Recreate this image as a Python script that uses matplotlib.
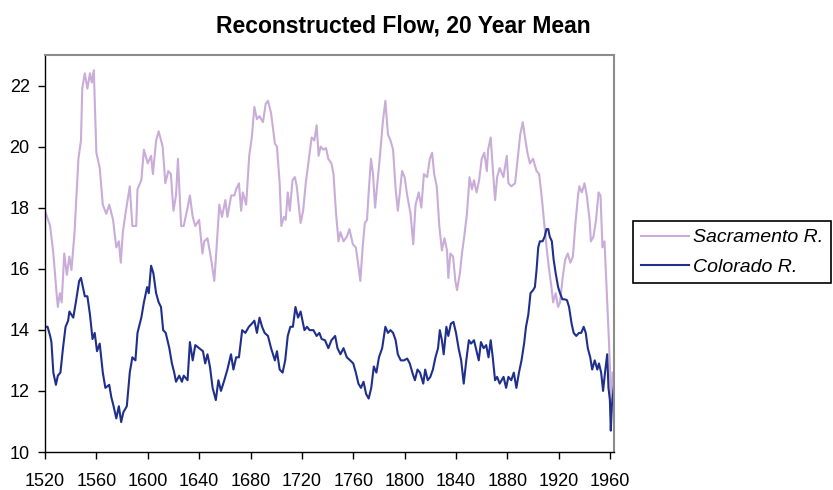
import numpy as np
import matplotlib
matplotlib.use("Agg")
import matplotlib.pyplot as plt

plt.rcParams['font.family'] = ['Liberation Sans', 'DejaVu Sans']

# Sacramento R. (年份, 流量)
sac_year = [1520, 1524, 1526.5, 1529, 1530, 1531.6, 1533, 1535, 1537, 1539, 1540.6, 1543, 1546,
            1548, 1549, 1551, 1553, 1555, 1556.4, 1558, 1560, 1562.6, 1565, 1567.7, 1570, 1573,
            1575.5, 1577.5, 1579, 1580.6, 1583, 1586, 1588, 1591, 1592, 1595, 1597, 1600, 1602.6,
            1604, 1606.5, 1608.5, 1611.6, 1613.7, 1616, 1618, 1620, 1622, 1623.5, 1626, 1628,
            1631, 1632.8, 1635, 1637, 1640,
            1642.6, 1644, 1646.5, 1649, 1651.8, 1653.6, 1655.7, 1657.8, 1660.4, 1662, 1665,
            1667.4, 1668.8, 1671, 1672.7, 1674, 1676.6, 1679, 1681, 1683, 1685, 1687, 1689.7,
            1691.8, 1693.6, 1696, 1699, 1700.6, 1702.7, 1704, 1706, 1707.4, 1709, 1710.6, 1712.7,
            1714.5, 1716, 1719, 1721, 1723, 1725, 1727.6, 1729.7, 1731.5, 1733, 1734.6, 1736.7,
            1738.8, 1740.6, 1743, 1744.6, 1746.6, 1748.5, 1750, 1752.4, 1755, 1757, 1759.7, 1762,
            1764, 1765.5, 1767.3, 1769, 1770.7, 1772, 1773.8, 1775.4, 1777, 1779, 1781, 1783,
            1785, 1787, 1789, 1791, 1793, 1794.7, 1796.3, 1798,
            1800, 1802, 1804.6, 1806.7, 1808.5, 1811, 1813, 1815, 1817.5, 1819.6, 1821.4, 1823,
            1825, 1827, 1829, 1831, 1833, 1834, 1835.6, 1837.7, 1839.5, 1840.8, 1843, 1844.6,
            1846.4, 1848.5, 1850.5, 1852.4, 1854, 1856, 1858, 1860, 1862, 1864, 1865, 1867,
            1868.6, 1870.4, 1872, 1874, 1876.9, 1879.5, 1880.8, 1883, 1886, 1888.5, 1890, 1892,
            1893.7, 1895.6, 1897.5, 1900, 1902.7, 1904.7, 1906.6, 1908.4, 1910.5, 1912.5, 1914.3,
            1915.6, 1917.6, 1919.5, 1921, 1923, 1925, 1927, 1929, 1931, 1933, 1935, 1936, 1938,
            1940, 1941.8, 1944, 1945, 1947, 1949, 1951, 1952.5, 1954, 1955.6, 1957.4, 1959, 1960,
            1961, 1962]
sac_flow = [17.9, 17.4, 16.5, 15.2, 14.75, 15.2, 14.9, 16.5, 15.8, 16.4, 15.96, 17.2, 19.6,
            20.2, 21.9, 22.4, 21.9, 22.4, 22.1, 22.5, 19.8, 19.3, 18.1, 17.8, 18.1, 17.6,
            16.7, 16.9, 16.2, 17.2, 17.9, 18.7, 17.4, 17.4, 18.6, 18.9, 19.9, 19.45, 19.7,
            19.1, 20.2, 20.5, 20.0, 18.8, 19.2, 19.1, 17.9, 18.4, 19.6, 17.4, 17.4,
            18.0, 18.4, 17.7, 17.4, 17.6,
            16.5, 16.9, 17.0, 16.4, 15.6, 16.7, 18.1, 17.7, 18.25, 17.7, 18.4,
            18.4, 18.6, 18.8, 17.9, 18.5, 18.1, 19.7, 20.3, 21.3, 20.9, 21.0, 20.8,
            21.4, 21.5, 21.1, 20.1, 20.0, 18.8, 17.4, 17.7, 17.6, 18.5, 17.9, 18.9,
            19.0, 18.7, 17.5, 17.9, 18.8, 19.45, 20.3, 20.2, 20.7, 19.7, 20.0, 19.9,
            19.95, 19.6, 19.45, 19.1, 17.8, 16.9, 17.2, 16.9, 17.05, 17.3, 16.8, 16.7,
            16.1, 15.6, 16.7, 17.5, 17.6, 18.5, 19.6, 19.1, 18.0, 18.9, 19.8, 20.8,
            21.5, 20.4, 20.2, 19.9, 18.6, 17.9, 18.5, 19.2,
            19.0, 18.4, 17.8, 16.8, 18.1, 18.5, 18.0, 19.1, 19.0, 19.6, 19.8, 19.1,
            18.7, 17.4, 16.6, 17.0, 16.6, 15.7, 16.5, 16.4, 15.6, 15.3, 15.85, 16.5,
            17.05, 17.8, 19.0, 18.6, 18.9, 18.5, 18.9, 19.6, 19.8, 19.2, 19.9, 20.3,
            19.3, 18.25, 19.0, 19.3, 19.0, 19.7, 18.8, 18.7, 18.8, 19.8, 20.4, 20.8,
            20.3, 19.8, 19.45, 19.6, 19.2, 19.1, 18.4, 17.6, 16.7, 15.96, 15.4,
            14.9, 15.2, 14.75, 14.9, 15.7, 16.3, 16.5, 16.2, 16.4, 17.5, 18.4, 18.7, 18.5,
            18.8, 18.4, 17.6, 16.9, 17.05, 17.6, 18.5, 18.4, 16.7, 16.9, 15.2, 13.7, 12.6,
            11.3, 12.6]

# Colorado R.
col_year = [1520, 1522, 1524, 1525, 1526.5, 1528.5, 1530, 1532, 1534, 1536, 1538, 1539, 1542,
            1544, 1546.6, 1548, 1551, 1553, 1555, 1557, 1558.7, 1560.5, 1562.6, 1565, 1567, 1570,
            1571.6, 1573.4, 1575.5, 1577.5, 1579.3, 1581, 1583.7, 1586, 1588, 1590.4, 1592, 1595,
            1597, 1599.5, 1600.8, 1602.6, 1604.4, 1606.5, 1608.5, 1610.3, 1612, 1614, 1616.8,
            1618.8, 1620.6, 1622, 1624.5, 1626.6, 1628, 1631, 1632.8, 1635, 1637, 1640,
            1643, 1644.7, 1646.5, 1648.4, 1650.5, 1653, 1655, 1657, 1659.6, 1662, 1664.8, 1666.7,
            1668.8, 1671, 1673.5, 1676, 1678.7, 1681, 1683, 1685, 1687, 1689, 1691, 1693.6, 1696,
            1699, 1700.6, 1702.7, 1705, 1707, 1709, 1711, 1713, 1715, 1717, 1719, 1720.5, 1722,
            1724, 1726, 1729, 1731.5, 1733.6, 1735.4, 1738, 1740.6, 1743, 1745.9, 1747.7, 1750,
            1752.4, 1755, 1757.6, 1760, 1762, 1764, 1766, 1768, 1770, 1772, 1774, 1776, 1778,
            1780, 1782.5, 1785, 1787, 1789, 1791, 1793, 1794.7, 1797,
            1799.5, 1802, 1804, 1806, 1808, 1810, 1812, 1814.5, 1816, 1818, 1820, 1822, 1824,
            1826, 1827.4, 1829, 1830.4, 1832.5, 1834, 1836, 1838, 1840, 1842, 1844, 1846, 1848,
            1850, 1851.7, 1854, 1856, 1857.7, 1859.4, 1861.5, 1863.5, 1865.3, 1867, 1868.6,
            1870.4, 1872, 1874, 1877, 1879, 1880.8, 1883, 1885, 1887, 1889, 1891, 1893, 1894.5,
            1896.3, 1898, 1900, 1901.4, 1902.7, 1904, 1905.3, 1907.4, 1909, 1910.5, 1911.8, 1913,
            1914.6, 1916, 1917.6, 1919.5, 1921, 1922.8, 1924.6, 1926.4, 1928, 1930, 1931.6,
            1933.6, 1935.7, 1937.5, 1939.4, 1941, 1942.6, 1944.5, 1946, 1948, 1950, 1951.3, 1953,
            1954.5, 1956, 1957.7, 1958.7, 1959.8, 1960.5, 1961.3, 1962.8]
col_flow = [14.1, 14.1, 13.8, 13.6, 12.6, 12.2, 12.5, 12.6, 13.4, 14.1, 14.3, 14.6, 14.4,
            14.9, 15.6, 15.7, 15.1, 15.1, 14.5, 13.7, 13.9, 13.3, 13.55, 12.6, 12.1, 12.2,
            11.8, 11.5, 11.1, 11.5, 10.98, 11.3, 11.5, 12.6, 13.1, 13.0, 13.9, 14.4,
            14.9, 15.4, 15.2, 16.1, 15.85, 15.2, 14.9, 14.75, 13.99, 13.9, 13.4,
            12.9, 12.6, 12.3, 12.5, 12.3, 12.5, 12.35, 13.6, 13.0, 13.5, 13.4,
            13.3, 12.9, 13.2, 12.8, 12.1, 11.7, 12.35, 12.0, 12.35, 12.7, 13.2, 12.7,
            13.1, 13.1, 13.99, 13.9, 14.1, 14.2, 14.3, 13.9, 14.4, 14.1, 13.9, 13.8, 13.4,
            13.0, 13.3, 12.7, 12.6, 13.0, 13.8, 14.1, 14.1, 14.75, 14.4, 14.6, 14.3, 13.99,
            14.1, 13.99, 13.99, 13.8, 13.9, 13.7, 13.66, 13.4, 13.66, 13.8, 13.4, 13.2,
            13.4, 13.1, 13.0, 12.9, 12.6, 12.24, 12.1, 12.3, 11.9, 11.75, 12.1, 12.8, 12.6,
            13.1, 13.4, 14.1, 13.9, 13.99, 13.9, 13.66, 13.2, 13.0,
            13.0, 13.06, 12.9, 12.6, 12.35, 12.7, 12.6, 12.24, 12.7, 12.35, 12.46, 12.7, 13.1,
            13.4, 13.99, 13.66, 13.2, 14.1, 13.8, 14.2, 14.26, 13.9, 13.4, 13.0, 12.24, 13.0,
            13.66, 13.55, 13.66, 13.3, 13.0, 13.6, 13.4, 13.5, 13.1, 13.66, 13.1,
            12.35, 12.46, 12.24, 12.46, 12.1, 12.46, 12.35, 12.6, 12.1, 12.6, 13.0, 13.55, 14.1,
            14.5, 15.2, 15.3, 15.4, 15.96, 16.7, 16.9, 16.9, 17.05, 17.3, 17.3, 17.05,
            16.9, 16.3, 15.85, 15.4, 15.2, 15.0, 15.0, 14.97, 14.75, 14.2, 13.9,
            13.8, 13.9, 13.9, 14.1, 13.9, 13.4, 13.1, 12.7, 13.0, 12.7, 12.9, 12.6,
            12.0, 12.6, 13.2, 12.1, 11.7, 10.7, 11.5, 12.1]

x_ticks = list(range(1520, 1961, 40))
y_ticks = list(range(10, 23, 2))

fig = plt.figure(figsize=(8.33, 4.9), dpi=100)
ax = fig.add_axes([45/833, 38/490, 569/833, 397/490])

ax.plot(sac_year, sac_flow, color="#c9acd8", lw=1.5, label="Sacramento R.")
ax.plot(col_year, col_flow, color="#1f2f8c", lw=1.5, label="Colorado R.")

ax.set_xlim(1520, 1963)
ax.set_ylim(10, 23)
ax.set_xticks(x_ticks)
ax.set_yticks(y_ticks)
ax.tick_params(labelsize=13, length=5, width=1, direction="out")
ax.tick_params(axis="x", pad=10)
ax.tick_params(axis="y", pad=6)

for s in ["top", "right"]:
    ax.spines[s].set_color("#8c8c8c")
    ax.spines[s].set_linewidth(1.5)
for s in ["left", "bottom"]:
    ax.spines[s].set_color("black")
    ax.spines[s].set_linewidth(1)

fig.text(403/833, 1 - 32/490, "Reconstructed Flow, 20 Year Mean",
         ha="center", va="baseline", fontsize=16.5, fontweight="bold")

leg = fig.legend(loc="upper left", bbox_to_anchor=(633/833, 1 - 221/490),
                 frameon=True, fancybox=False, framealpha=1, edgecolor="black",
                 prop={"size": 14, "style": "italic"}, handlelength=2.5,
                 labelspacing=0.6, handletextpad=0.2, borderpad=0.4,
                 borderaxespad=0)
leg.get_frame().set_linewidth(1.2)

plt.savefig("out.png", dpi=100)
